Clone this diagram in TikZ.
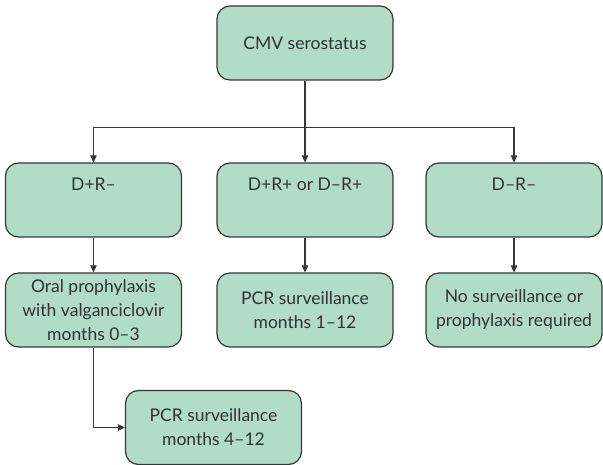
\documentclass[tikz,border=0pt]{standalone}
\usepackage{fontspec}
\setmainfont{Lato}
\usetikzlibrary{arrows.meta,positioning,calc}

\definecolor{boxfill}{RGB}{176,220,200}
\definecolor{boxline}{RGB}{55,55,55}
\definecolor{txt}{RGB}{50,50,50}

\tikzset{
  stepbox/.style={draw=boxline, line width=1.2pt, fill=boxfill, rounded corners=13pt,
    minimum width=176pt, minimum height=74pt, align=center, text=txt,
    font=\fontsize{17.5}{24}\selectfont, inner sep=2pt},
  flow/.style={line width=1.1pt, draw=boxline, -{Triangle[length=7pt,width=6.5pt]}}
}

\begin{document}
\begin{tikzpicture}[x=1pt,y=-1pt]
        \useasboundingbox (0,0) rectangle (603,465);
        % Top
        \node[stepbox] (cmv) at (305,43) {CMV serostatus};
        % Serostatus groups
        \node[stepbox] (dprm) at (93.5,200) {D+R–\\ \strut};
        \node[stepbox] (rpos) at (305,200) {D+R+ or D–R+\\ \strut};
        \node[stepbox] (dmrm) at (514,200) {D–R–\\ \strut};
        % Management
        \node[stepbox] (oral) at (93.5,310) {Oral prophylaxis\\with valganciclovir\\months 0–3};
        \node[stepbox] (pcrmid) at (305,310) {PCR surveillance\\months 1–12};
        \node[stepbox] (none) at (514,310) {No surveillance or\\prophylaxis required};
        \node[stepbox] (pcrlate) at (213.5,427.5) {PCR surveillance\\months 4–12};
        % Branching
        \coordinate (split) at ($(cmv.south)+(0,47)$);
        \draw[line width=1.1pt, draw=boxline] (cmv.south) -- (split);
        \draw[flow] (split) -| (dprm.north);
        \draw[flow] (split) -- (rpos.north);
        \draw[flow] (split) -| (dmrm.north);
        % Down arrows
        \draw[flow] (dprm) -- (oral);
        \draw[flow] (rpos) -- (pcrmid);
        \draw[flow] (dmrm) -- (none);
        \draw[flow] (oral.south) |- (pcrlate.west);
      \end{tikzpicture}
\end{document}
